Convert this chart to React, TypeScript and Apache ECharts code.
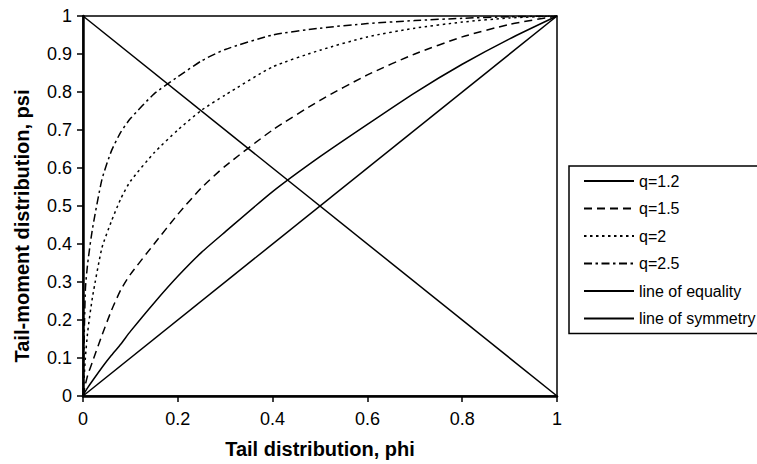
import React, { useEffect, useRef } from "react";
import * as echarts from "echarts";

const phi = [0, 0.005, 0.01, 0.02, 0.04, 0.06, 0.08, 0.1, 0.15, 0.2, 0.25, 0.3, 0.4, 0.5, 0.6, 0.7, 0.8, 0.9, 1];
const psiQ12 = [0, 0.012, 0.022, 0.04, 0.075, 0.107, 0.137, 0.17, 0.245, 0.315, 0.378, 0.432, 0.538, 0.63, 0.715, 0.798, 0.873, 0.94, 1];
const psiQ15 = [0, 0.03, 0.055, 0.09, 0.16, 0.225, 0.28, 0.32, 0.4, 0.478, 0.548, 0.605, 0.7, 0.778, 0.845, 0.9, 0.945, 0.978, 1];
const psiQ2 = [0, 0.1, 0.17, 0.26, 0.39, 0.46, 0.52, 0.565, 0.64, 0.7, 0.752, 0.792, 0.866, 0.91, 0.945, 0.968, 0.984, 0.995, 1];
const psiQ25 = [0, 0.28, 0.35, 0.44, 0.57, 0.645, 0.695, 0.73, 0.795, 0.84, 0.882, 0.912, 0.95, 0.968, 0.98, 0.988, 0.994, 0.998, 1];
const equalityX = [0, 1];
const equalityY = [0, 1];
const symmetryX = [0, 1];
const symmetryY = [1, 0];
const seriesNames = ["q=1.2", "q=1.5", "q=2", "q=2.5", "line of equality", "line of symmetry"];
const xTickLabels = ["0", "0.2", "0.4", "0.6", "0.8", "1"];
const yTickLabels = ["0", "0.1", "0.2", "0.3", "0.4", "0.5", "0.6", "0.7", "0.8", "0.9", "1"];
const xTitle = "Tail distribution, phi";
const yTitle = "Tail-moment distribution, psi";

const FONT = "'Liberation Sans', Arial, sans-serif";

function pairs(xs: number[], ys: number[]) {
  return xs.map((x, i) => [x, ys[i]]);
}

export default function App() {
  const ref = useRef<HTMLDivElement>(null);
  useEffect(() => {
    if (!ref.current) return;
    const chart = echarts.init(ref.current, null, { renderer: "svg" });
    const lineBase = (name: string, data: number[][], type: any, smooth: boolean) => ({
      name,
      type: "line",
      data,
      showSymbol: false,
      symbol: "none",
      smooth: smooth ? 0.2 : false,
      lineStyle: { color: "#000", width: 1.5, type },
      itemStyle: { color: "#000" },
    });
    chart.setOption({
      animation: false,
      backgroundColor: "#fff",
      textStyle: { fontFamily: FONT },
      grid: {
        left: 83,
        right: 200,
        top: 16,
        bottom: 67,
        show: true,
        borderColor: "#000",
        borderWidth: 1.5,
        backgroundColor: "transparent",
      },
      legend: {
        orient: "vertical",
        left: 569,
        top: 166,
        data: seriesNames,
        itemWidth: 50,
        itemHeight: 14,
        itemGap: 11.5,
        padding: [7, 3, 7, 14],
        borderColor: "#000",
        borderWidth: 1.5,
        backgroundColor: "#fff",
        itemStyle: { color: "rgba(0,0,0,0)", borderWidth: 0, opacity: 0 },
        textStyle: { color: "#000", fontSize: 16, fontFamily: FONT },
      },
      graphic: [
        {
          type: "text",
          x: 22,
          y: 226,
          rotation: Math.PI / 2,
          style: {
            text: yTitle,
            fill: "#000",
            font: `bold 20px ${FONT}`,
            textAlign: "center",
            textVerticalAlign: "middle",
          },
        },
      ],
      xAxis: {
        type: "value",
        min: 0,
        max: 1,
        interval: 0.2,
        name: xTitle,
        nameLocation: "middle",
        nameGap: 43,
        nameTextStyle: { color: "#000", fontSize: 20, fontWeight: "bold", fontFamily: FONT },
        splitLine: { show: false },
        axisLine: { show: true, onZero: false, lineStyle: { color: "#000", width: 2.5 } },
        axisTick: { show: true, inside: false, length: 6, lineStyle: { color: "#000", width: 1.5 } },
        axisLabel: {
          color: "#000",
          fontSize: 18,
          fontFamily: FONT,
          margin: 14,
          formatter: (v: number) => xTickLabels[Math.round(v / 0.2)] ?? "",
        },
      },
      yAxis: {
        type: "value",
        min: 0,
        max: 1,
        interval: 0.1,
        splitLine: { show: false },
        axisLine: { show: true, onZero: false, lineStyle: { color: "#000", width: 2.5 } },
        axisTick: { show: true, inside: false, length: 6, lineStyle: { color: "#000", width: 1.5 } },
        axisLabel: {
          color: "#000",
          fontSize: 18,
          fontFamily: FONT,
          margin: 11,
          formatter: (v: number) => yTickLabels[Math.round(v / 0.1)] ?? "",
        },
      },
      series: [
        lineBase(seriesNames[0], pairs(phi, psiQ12), "solid", true),
        lineBase(seriesNames[1], pairs(phi, psiQ15), [8, 5], true),
        lineBase(seriesNames[2], pairs(phi, psiQ2), [2.5, 3.5], true),
        lineBase(seriesNames[3], pairs(phi, psiQ25), [8, 3.5, 2.5, 3.5], true),
        lineBase(seriesNames[4], pairs(equalityX, equalityY), "solid", false),
        lineBase(seriesNames[5], pairs(symmetryX, symmetryY), "solid", false),
      ],
    });
    return () => chart.dispose();
  }, []);
  return (
    <div
      ref={ref}
      style={{ position: "fixed", left: 0, top: 0, width: 757, height: 464, background: "#fff" }}
    />
  );
}
